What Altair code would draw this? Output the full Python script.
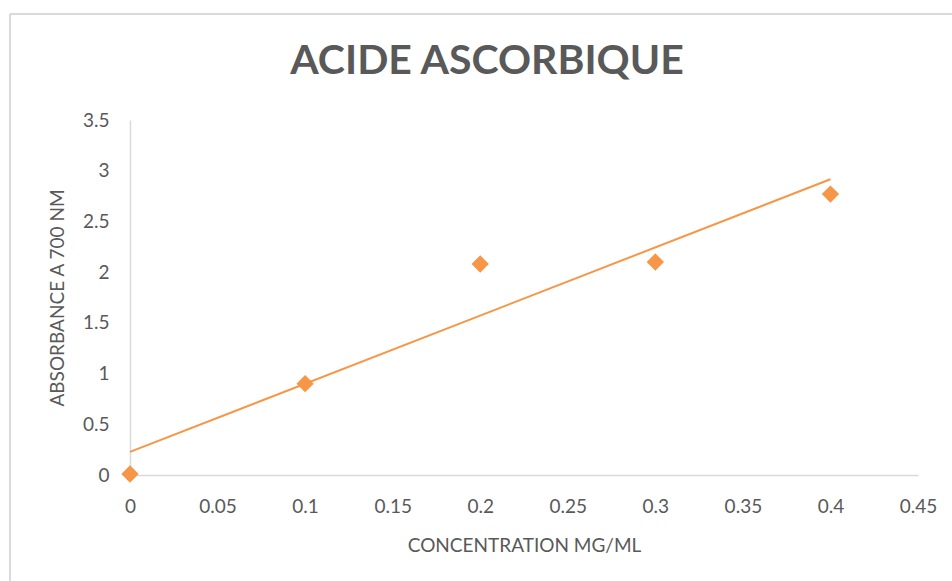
import altair as alt
import pandas as pd

# Ascorbic acid calibration: concentration (mg/mL) vs absorbance at 700 nm
concentration = [0.0, 0.1, 0.2, 0.3, 0.4]
absorbance = [0.01, 0.90, 2.08, 2.10, 2.77]

x_ticks = [0, 0.05, 0.1, 0.15, 0.2, 0.25, 0.3, 0.35, 0.4, 0.45]
y_ticks = [0, 0.5, 1, 1.5, 2, 2.5, 3, 3.5]

chart_title = "ACIDE ASCORBIQUE"

df = pd.DataFrame({"conc": concentration, "abs": absorbance})

ORANGE = "#F79646"
GREY_TEXT = "#595959"
GREY_LINE = "#D9D9D9"
FONT = "Lato"

x_enc = alt.X(
    "conc:Q",
    title="CONCENTRATION MG/ML",
    scale=alt.Scale(domain=[0, 0.45], nice=False, zero=False),
    axis=alt.Axis(values=x_ticks, format="~g", grid=False, ticks=False,
                  labelFlush=False,
                  domainColor=GREY_LINE, domainWidth=1.5,
                  labelPadding=22, labelFontSize=19, labelColor=GREY_TEXT,
                  labelFont=FONT, titleFont=FONT, titleFontSize=19,
                  titleFontWeight="normal", titleColor=GREY_TEXT,
                  titlePadding=20),
)
y_enc = alt.Y(
    "abs:Q",
    title="ABSORBANCE A 700 NM",
    scale=alt.Scale(domain=[0, 3.5], nice=False, zero=False),
    axis=alt.Axis(values=y_ticks, format="~g", grid=False, ticks=False,
                  labelFlush=False,
                  domainColor=GREY_LINE, domainWidth=1.5,
                  labelPadding=21, labelFontSize=19, labelColor=GREY_TEXT,
                  labelFont=FONT, titleFont=FONT, titleFontSize=19,
                  titleFontWeight="normal", titleColor=GREY_TEXT,
                  titlePadding=15),
)

base = alt.Chart(df)

trend = base.transform_regression(
    "conc", "abs", method="linear", extent=[0, 0.4]
).mark_line(color=ORANGE, strokeWidth=2).encode(x=x_enc, y=y_enc)

points = base.mark_point(
    shape="diamond", filled=True, opacity=1, color=ORANGE, size=300
).encode(x=x_enc, y=y_enc)

# Light frame around the whole chart area
frame_left = alt.Chart(df).mark_rule(color=GREY_LINE, strokeWidth=1.5).encode(
    x=alt.value(-120), y=alt.value(-106), y2=alt.value(480)
)
frame_top = alt.Chart(df).mark_rule(color=GREY_LINE, strokeWidth=1.5).encode(
    x=alt.value(-120), x2=alt.value(900), y=alt.value(-106)
)

# Chart heading in bold caps above the plot
heading = alt.Chart(pd.DataFrame({"t": [chart_title]})).mark_text(
    font=FONT, fontSize=41, fontWeight="bold", color=GREY_TEXT,
    align="center", baseline="middle",
).encode(text="t:N", x=alt.value(357), y=alt.value(-58))

chart = alt.layer(frame_left, frame_top, trend, points, heading).properties(
    width=788,
    height=355,
    background="white",
    autosize=alt.AutoSizeParams(type="none"),
    padding={"left": 130, "top": 120, "right": 34, "bottom": 106},
).configure_view(strokeWidth=0, stroke="transparent")

chart.save("out.html", embed_options={"renderer": "svg", "actions": False})
